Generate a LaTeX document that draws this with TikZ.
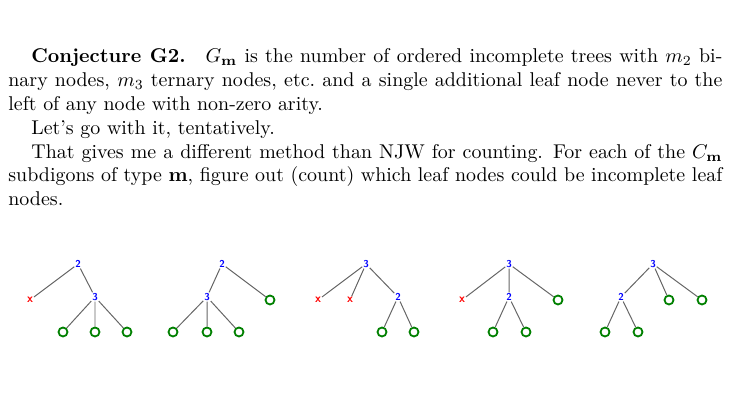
\documentclass[tikz,border=0pt]{standalone}
\usepackage{amsmath,amssymb}
\begin{document}
\begin{tikzpicture}[x=0.5bp,y=-0.5bp,
  e/.style={draw=gray!80!black,line width=0.5pt},
  nn/.style={inner sep=0.3pt,font=\fontsize{5}{5}\selectfont\bfseries\sffamily,text=blue},
  lf/.style={circle,draw=green!50!black,line width=0.9pt,inner sep=0pt,minimum size=4.5bp},
  xx/.style={inner sep=0.3pt,font=\fontsize{6}{6}\selectfont\bfseries\sffamily,text=red}]
\useasboundingbox (0,0) rectangle (731,404);
\node[anchor=north west,inner sep=0pt] (txt) at (8,48) {\parbox{357bp}{\setlength{\parindent}{11.5bp}\fontsize{10}{12}\selectfont
\indent\textbf{Conjecture G2.}\quad $G_{\mathbf m}$ is the number of ordered incomplete trees with $m_2$ binary nodes, $m_3$ ternary nodes, etc.\ and a single additional leaf node never to the left of any node with non-zero arity.

Let's go with it, tentatively.

That gives me a different method than NJW for counting. For each of the $C_{\mathbf m}$ subdigons of type $\mathbf m$, figure out (count) which leaf nodes could be incomplete leaf nodes.}};
% tree 1
\node[nn] (a) at (78,264) {2}; \node[xx] (a1) at (30,300) {x}; \node[nn] (a2) at (95,297) {3};
\node[lf] (a3) at (63,332) {}; \node[lf] (a4) at (95,332) {}; \node[lf] (a5) at (127,332) {};
\draw[e] (a)--(a1) (a)--(a2) (a2)--(a3) (a2)--(a4) (a2)--(a5);
% tree 2
\node[nn] (b) at (222,264) {2}; \node[nn] (b1) at (207,297) {3}; \node[lf] (b2) at (270,300) {};
\node[lf] (b3) at (173,332) {}; \node[lf] (b4) at (207,332) {}; \node[lf] (b5) at (239,332) {};
\draw[e] (b)--(b1) (b)--(b2) (b1)--(b3) (b1)--(b4) (b1)--(b5);
% tree 3
\node[nn] (c) at (366,264) {3}; \node[xx] (c1) at (318,300) {x}; \node[xx] (c2) at (350,300) {x};
\node[nn] (c3) at (398,297) {2}; \node[lf] (c4) at (382,332) {}; \node[lf] (c5) at (414,332) {};
\draw[e] (c)--(c1) (c)--(c2) (c)--(c3) (c3)--(c4) (c3)--(c5);
% tree 4
\node[nn] (d) at (509,264) {3}; \node[xx] (d1) at (462,300) {x}; \node[nn] (d2) at (509,297) {2};
\node[lf] (d3) at (558,300) {}; \node[lf] (d4) at (493,332) {}; \node[lf] (d5) at (526,332) {};
\draw[e] (d)--(d1) (d)--(d2) (d)--(d3) (d2)--(d4) (d2)--(d5);
% tree 5
\node[nn] (f) at (653,264) {3}; \node[nn] (f1) at (621,297) {2}; \node[lf] (f2) at (669,300) {};
\node[lf] (f3) at (702,300) {}; \node[lf] (f4) at (605,332) {}; \node[lf] (f5) at (638,332) {};
\draw[e] (f)--(f1) (f)--(f2) (f)--(f3) (f1)--(f4) (f1)--(f5);
\end{tikzpicture}
\end{document}
